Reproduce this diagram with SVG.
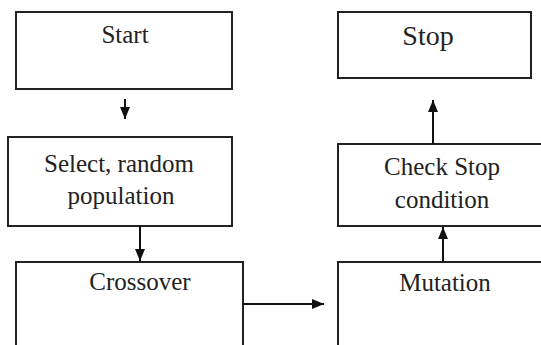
<svg xmlns="http://www.w3.org/2000/svg" width="541" height="345" viewBox="0 0 541 345">
<style>
.box{fill:#fff;stroke:#222;stroke-width:2}
.lbl{font-family:"Liberation Serif",Tinos,"Times New Roman","DejaVu Serif",serif;font-size:25px;fill:#222;text-anchor:middle}
.con{stroke:#111;stroke-width:2;fill:none}
</style>
<defs>
<marker id="ah" viewBox="0 0 12 10" refX="12" refY="5" markerWidth="6" markerHeight="5" orient="auto" markerUnits="strokeWidth">
<path d="M0,0 L12,5 L0,10 z" fill="#111"/>
</marker>
</defs>
<rect width="541" height="345" fill="#fff"/>
<g id="start"><rect class="box" x="16" y="12" width="216" height="77"/><text class="lbl" x="125" y="43">Start</text></g>
<g id="select"><rect class="box" x="8" y="137" width="224" height="89"/><text class="lbl" x="119" y="172">Select, random</text><text class="lbl" x="121" y="204">population</text></g>
<g id="crossover"><rect class="box" x="16" y="262" width="227" height="100"/><text class="lbl" x="140" y="290">Crossover</text></g>
<g id="mutation"><rect class="box" x="338" y="262" width="220" height="100"/><text class="lbl" x="445" y="291">Mutation</text></g>
<g id="check"><rect class="box" x="338" y="144" width="220" height="82"/><text class="lbl" x="442" y="175">Check Stop</text><text class="lbl" x="442" y="208">condition</text></g>
<g id="stop"><rect class="box" x="338" y="12" width="193" height="66"/><text class="lbl" x="428" y="45" style="font-size:28px">Stop</text></g>
<g id="connectors">
<line class="con" x1="125" y1="99" x2="125" y2="119" marker-end="url(#ah)"/>
<line class="con" x1="140" y1="226" x2="140" y2="261" marker-end="url(#ah)"/>
<line class="con" x1="243" y1="304" x2="324" y2="304" marker-end="url(#ah)"/>
<line class="con" x1="443" y1="262" x2="443" y2="227" marker-end="url(#ah)"/>
<line class="con" x1="433" y1="144" x2="433" y2="100" marker-end="url(#ah)"/>
</g>
</svg>
